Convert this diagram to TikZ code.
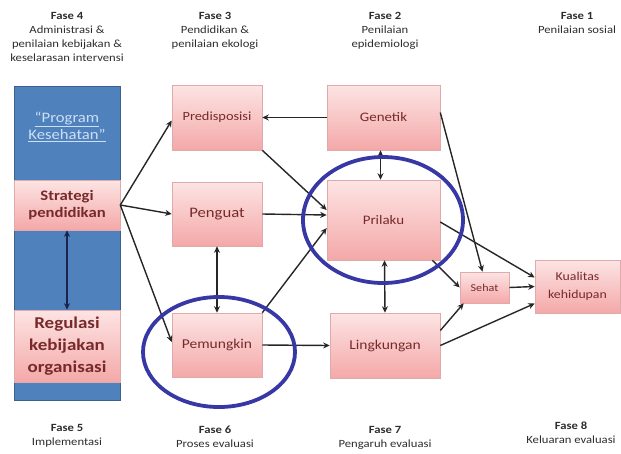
\documentclass[tikz,border=0pt]{standalone}
\usepackage{fontspec}
\setmainfont[FakeStretch=1.15]{Carlito}
\usetikzlibrary{arrows.meta,shadows}
\definecolor{boxtop}{RGB}{253,228,228}
\definecolor{boxbot}{RGB}{244,168,168}
\definecolor{boxline}{RGB}{222,170,170}
\definecolor{boxtext}{RGB}{120,42,42}
\definecolor{colblue}{RGB}{79,129,189}
\definecolor{colline}{RGB}{60,96,140}
\definecolor{ringblue}{RGB}{55,55,165}
\definecolor{navy}{RGB}{25,35,75}
\definecolor{hdr}{RGB}{45,45,45}
\definecolor{progtext}{RGB}{205,222,245}
\begin{document}
\begin{tikzpicture}[x=1pt,y=-1pt,
  pbox/.style={draw=boxline, line width=0.6pt, top color=boxtop, bottom color=boxbot,
    text=boxtext, align=center, inner sep=0pt,
    drop shadow={shadow xshift=1.2pt, shadow yshift=-1.2pt, opacity=0.22}},
  cbox/.style={draw=boxline, line width=0.6pt, top color=boxtop, bottom color=boxbot,
    text=boxtext, align=center, inner sep=0pt, font=\bfseries},
  arr/.style={-{Stealth[length=6.5pt,width=6pt]}, line width=1.4pt, draw=black!85},
  darr/.style={{Stealth[length=6.5pt,width=6pt]}-{Stealth[length=6.5pt,width=6pt]}, line width=1.4pt, draw=black!85},
  ring/.style={draw=ringblue, line width=3.8pt},
  hdrtxt/.style={align=center, text=hdr, inner sep=0pt, anchor=north, font=\fontsize{11}{14}\selectfont}
]
\useasboundingbox (0,0) rectangle (621,453);

% headers
\node[hdrtxt] (h4) at (67,12) {\textbf{Fase 4}\\Administrasi \&\\penilaian kebijakan \&\\keselarasan intervensi};
\node[hdrtxt] (h3) at (215,12) {\textbf{Fase 3}\\Pendidikan \&\\penilaian ekologi};
\node[hdrtxt] (h2) at (385,12) {\textbf{Fase 2}\\Penilaian\\epidemiologi};
\node[hdrtxt] (h1) at (577,12) {\textbf{Fase 1}\\Penilaian sosial};

\node[hdrtxt] (h5) at (67,424) {\textbf{Fase 5}\\Implementasi};
\node[hdrtxt] (h6) at (215,426) {\textbf{Fase 6}\\Proses evaluasi};
\node[hdrtxt] (h7) at (385,426) {\textbf{Fase 7}\\Pengaruh evaluasi};
\node[hdrtxt] (h8) at (571,422) {\textbf{Fase 8}\\Keluaran evaluasi};

% blue column
\node[draw=colline, line width=0.8pt, fill=colblue, minimum width=106pt, minimum height=314pt, inner sep=0pt] (col) at (67,243) {};
\node[text=progtext, align=center, inner sep=0pt, font=\fontsize{14.5}{17}\selectfont] (prog) at (67,127) {\underline{“Program}\\\underline{Kesehatan”}};
\node[cbox, minimum width=106pt, minimum height=50pt, font=\bfseries\fontsize{14.5}{17}\selectfont] (str) at (67,205) {Strategi\\pendidikan};
\node[cbox, minimum width=106pt, minimum height=72pt, font=\bfseries\fontsize{16.5}{22}\selectfont] (reg) at (67,346) {Regulasi\\kebijakan\\organisasi};
\draw[{Stealth[length=6.5pt,width=6pt]}-{Stealth[length=6.5pt,width=6pt]}, line width=1.5pt, draw=navy] (str.south) -- (reg.north);

% boxes
\node[pbox, minimum width=90pt, minimum height=65pt, font=\fontsize{12.5}{15}\selectfont] (pre) at (217,117.5) {Predisposisi};
\node[pbox, minimum width=113pt, minimum height=65pt, font=\fontsize{13}{15}\selectfont] (gen) at (383.5,117.5) {Genetik};
\node[pbox, minimum width=90pt, minimum height=64pt, font=\fontsize{14.5}{17}\selectfont] (pen) at (217,214) {Penguat};
\node[pbox, minimum width=113pt, minimum height=80pt, font=\fontsize{13}{15}\selectfont] (pri) at (383.5,220) {Prilaku};
\node[pbox, minimum width=90pt, minimum height=64pt, font=\fontsize{13.5}{15}\selectfont] (pem) at (217,345) {Pemungkin};
\node[pbox, minimum width=110pt, minimum height=65pt, font=\fontsize{13.5}{15}\selectfont] (lin) at (385,345.5) {Lingkungan};
\node[pbox, minimum width=49pt, minimum height=31pt, font=\fontsize{10.5}{12}\selectfont] (seh) at (484.5,287.5) {Sehat};
\node[pbox, minimum width=85pt, minimum height=53pt, font=\fontsize{12}{18}\selectfont] (kua) at (577.5,286.5) {Kualitas\\kehidupan};

% arrows
\draw[arr] (str.east) -- ([yshift=-3pt]pre.west);
\draw[arr] (str.east) -- (pen.west);
\draw[arr] (str.east) -- ([yshift=3pt]pem.west);
\draw[arr] (gen.west) -- (pre.east);
\draw[arr] (pre.south east) -- ([yshift=10pt]pri.west);
\draw[arr] (pen.east) -- ([yshift=5pt]pri.west);
\draw[arr] (pem.north east) -- ([yshift=-8pt]pri.west);
\draw[darr] (pen.south) -- (pem.north);
\draw[darr] ([xshift=-3pt]gen.south) -- ([xshift=-3pt]pri.north);
\draw[darr] ([xshift=1pt]pri.south) -- (lin.north);
\draw[arr] (pem.east) -- (lin.west);
\draw[arr] ([yshift=5pt]gen.east) -- ([xshift=-2pt]seh.north);
\draw[arr] ([yshift=-2pt]pri.east) -- ([yshift=9pt]kua.west);
\draw[arr] ([xshift=-8pt]pri.south east) -- (seh.west);
\draw[arr] ([yshift=15pt]lin.east) -- ([xshift=4pt]seh.south west);
\draw[arr] (lin.east) -- ([yshift=-17pt]kua.west);
\draw[arr] (seh.east) -- (kua.west);

% highlight rings
\draw[ring] (383,220) ellipse [x radius=80, y radius=63];
\draw[ring] (219,352) ellipse [x radius=76, y radius=55];
\end{tikzpicture}
\end{document}
